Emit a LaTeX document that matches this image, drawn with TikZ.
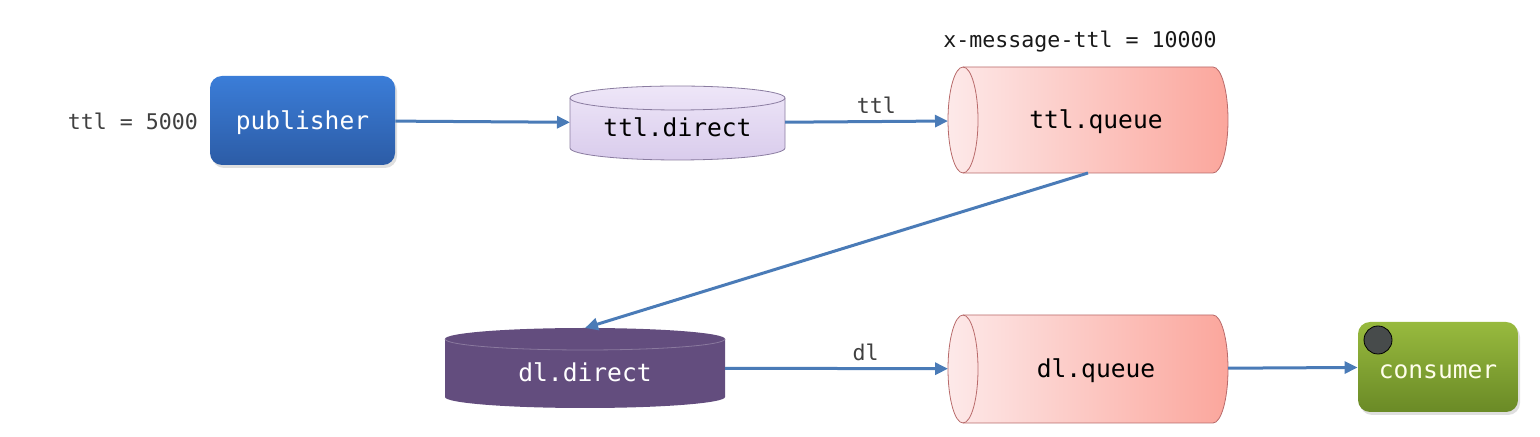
\documentclass[tikz,border=0pt]{standalone}
\usepackage{fontspec}
\setmonofont{DejaVu Sans Mono}
\usetikzlibrary{arrows.meta,shadows,backgrounds}
\definecolor{lineblue}{HTML}{4A7BB7}
\definecolor{pubtop}{HTML}{3B7DD8}
\definecolor{pubbot}{HTML}{2C5CA6}
\definecolor{contop}{HTML}{98BA3E}
\definecolor{conbot}{HTML}{6A8A26}
\definecolor{lavtop}{HTML}{EEE6F8}
\definecolor{lavbot}{HTML}{D9CCEC}
\definecolor{lavedge}{HTML}{8A7CA0}
\definecolor{pinkl}{HTML}{FDE9E9}
\definecolor{pinkr}{HTML}{FBA69C}
\definecolor{pinkedge}{HTML}{B86A6A}
\definecolor{dlpurple}{HTML}{634D7E}
\definecolor{dotgray}{HTML}{474B4B}
\tikzset{
  box/.style={rounded corners=6pt,minimum width=92.5pt,minimum height=44.5pt,
    font=\ttfamily\fontsize{12.3}{14}\selectfont,
    drop shadow={opacity=.25,shadow xshift=1pt,shadow yshift=-1.5pt}},
  exch/.style={outer sep=0pt,text height=16pt,text depth=2pt,
    font=\ttfamily\fontsize{12.3}{14}\selectfont},
  queue/.style={outer sep=0pt,minimum width=140pt,text height=11pt,text depth=2pt,
    execute at begin node=\hspace*{8pt},
    font=\ttfamily\fontsize{12.3}{14}\selectfont},
  lbl/.style={font=\ttfamily\fontsize{10.8}{13}\selectfont,text=black!75},
  flow/.style={->,lineblue,line width=1.5pt}
}
\begin{document}
\begin{tikzpicture}[x=0.5pt,y=-0.5pt,>={Triangle[length=6.5pt,width=6pt]}]
\useasboundingbox(0,0)rectangle(1540,437);
% nodes
\node[box,top color=pubtop,bottom color=pubbot,text=white,text height=12pt,text depth=3pt](pub)at(302.5,120.5){publisher};
\node[exch,minimum width=107.5pt,minimum height=37pt](ttlx)at(677.5,123){ttl.direct};
\node[queue,minimum height=53pt](ttlq)at(1088,120){ttl.queue};
\node[exch,text=white,minimum width=140pt,minimum height=40pt](dlx)at(585,368){dl.direct};
\node[queue,minimum height=54pt](dlq)at(1088,369){dl.queue};
\node[box,top color=contop,bottom color=conbot,text=yellow!8,minimum width=80pt,minimum height=45pt,text height=14pt,text depth=2pt](con)at(1438,367){consumer};
\node[circle,draw=black,fill=dotgray,minimum size=14pt,inner sep=0pt](dot)at(1378,340){};
% cylinder bodies
\begin{scope}[on background layer]
\shade[draw=lavedge,top color=lavtop,bottom color=lavbot]([yshift=-6pt]ttlx.north west)arc(180:0:53.75pt and 6pt)--([yshift=6pt]ttlx.south east)arc(0:-180:53.75pt and 6pt)--cycle;
\draw[lavedge]([yshift=-6pt]ttlx.north west)arc(180:360:53.75pt and 6pt);
\fill[dlpurple]([yshift=-5.5pt]dlx.north west)arc(180:0:70pt and 5.5pt)--([yshift=5.5pt]dlx.south east)arc(0:-180:70pt and 5.5pt)--cycle;
\draw[dlpurple!75!white]([yshift=-5.5pt]dlx.north west)arc(180:360:70pt and 5.5pt);
\shade[draw=pinkedge,left color=pinkl,right color=pinkr]([xshift=7.5pt]ttlq.north west)--([xshift=-7.5pt]ttlq.north east)arc(90:-90:7.5pt and 26.5pt)--([xshift=7.5pt]ttlq.south west)arc(270:90:7.5pt and 26.5pt)--cycle;
\draw[pinkedge]([xshift=7.5pt]ttlq.north west)arc(90:-90:7.5pt and 26.5pt);
\shade[draw=pinkedge,left color=pinkl,right color=pinkr]([xshift=7.5pt]dlq.north west)--([xshift=-7.5pt]dlq.north east)arc(90:-90:7.5pt and 27pt)--([xshift=7.5pt]dlq.south west)arc(270:90:7.5pt and 27pt)--cycle;
\draw[pinkedge]([xshift=7.5pt]dlq.north west)arc(90:-90:7.5pt and 27pt);
\end{scope}
% labels
\node[lbl,anchor=east](ttlpub)at(205,121){ttl = 5000};
\node[lbl,text=black!90](xttl)at(1080,42){x-message-ttl = 10000};
% arrows
\draw[flow](pub)--(ttlx);
\draw[flow](ttlx)--(ttlq)node[lbl,above,pos=.56]{ttl};
\draw[flow](ttlq.south)--(dlx.north);
\draw[flow](dlx)--(dlq)node[lbl,above,pos=.63]{dl};
\draw[flow](dlq)--(con);
\end{tikzpicture}
\end{document}
